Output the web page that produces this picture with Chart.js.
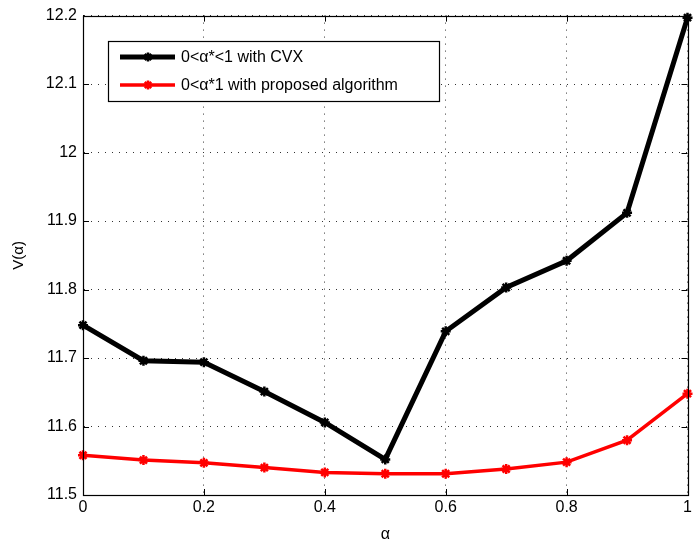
<!DOCTYPE html>
<html>
<head>
<meta charset="utf-8">
<script src="https://cdn.jsdelivr.net/npm/chart.js@4/dist/chart.umd.min.js"></script>
<style>
  html, body { margin: 0; padding: 0; background: #fff; }
  #wrap { width: 695px; height: 544px; position: relative; }
</style>
</head>
<body>
<div id="wrap"><canvas id="c" width="695" height="544"></canvas></div>
<script>
const alphaValues = [0, 0.1, 0.2, 0.3, 0.4, 0.5, 0.6, 0.7, 0.8, 0.9, 1.0];
const cvxValues = [11.748, 11.696, 11.694, 11.651, 11.606, 11.552, 11.739, 11.803, 11.842, 11.912, 12.197];
const proposedValues = [11.558, 11.551, 11.547, 11.540, 11.533, 11.531, 11.531, 11.538, 11.548, 11.580, 11.648];
const seriesLabels = ['0<\u03b1*<1 with CVX', '0<\u03b1*1 with proposed algorithm'];
const xTicks = [0, 0.2, 0.4, 0.6, 0.8, 1];
const yTicks = [11.5, 11.6, 11.7, 11.8, 11.9, 12, 12.1, 12.2];

const FONT = '"Liberation Sans", Arial, Helvetica, sans-serif';

function toPoints(xs, ys) { return xs.map((x, i) => ({ x: x, y: ys[i] })); }

const frame = {
  id: 'frame',
  beforeDatasetsDraw(chart) {
    const ctx = chart.ctx, a = chart.chartArea;
    const xs = chart.scales.x, ys = chart.scales.y;
    ctx.save();
    ctx.strokeStyle = '#000';
    ctx.lineWidth = 1;
    ctx.setLineDash([]);
    const L = 6;
    ctx.beginPath();
    xTicks.forEach(v => {
      const px = Math.round(xs.getPixelForValue(v)) + 0.5;
      ctx.moveTo(px, a.bottom); ctx.lineTo(px, a.bottom - L);
      ctx.moveTo(px, a.top); ctx.lineTo(px, a.top + L);
    });
    yTicks.forEach(v => {
      const py = Math.round(ys.getPixelForValue(v)) + 0.5;
      ctx.moveTo(a.left, py); ctx.lineTo(a.left + L, py);
      ctx.moveTo(a.right, py); ctx.lineTo(a.right - L, py);
    });
    ctx.stroke();
    ctx.restore();
  },
  afterDraw(chart) {
    const ctx = chart.ctx, a = chart.chartArea;
    ctx.save();
    ctx.strokeStyle = '#000';
    ctx.lineWidth = 1.2;
    ctx.strokeRect(Math.round(a.left) + 0.5, Math.round(a.top) + 0.5,
                   Math.round(a.right - a.left), Math.round(a.bottom - a.top));
    // legend
    const bx = 108.5, by = 41.5, bw = 331, bh = 60;
    ctx.fillStyle = '#fff';
    ctx.fillRect(bx, by, bw, bh);
    ctx.lineWidth = 1.2;
    ctx.strokeRect(bx, by, bw, bh);
    const rows = [57, 85];
    chart.data.datasets.forEach((ds, i) => {
      const y = rows[i];
      ctx.strokeStyle = ds.borderColor;
      ctx.lineWidth = ds.borderWidth;
      ctx.beginPath();
      ctx.moveTo(120, y); ctx.lineTo(175, y);
      ctx.stroke();
      const cx = 148, r = 4.5;
      ctx.lineWidth = ds.pointBorderWidth;
      ctx.beginPath();
      for (let k = 0; k < 4; k++) {
        const ang = k * Math.PI / 4;
        ctx.moveTo(cx + r * Math.cos(ang), y + r * Math.sin(ang));
        ctx.lineTo(cx - r * Math.cos(ang), y - r * Math.sin(ang));
      }
      ctx.stroke();
      ctx.fillStyle = '#000';
      ctx.font = '16px ' + FONT;
      ctx.textBaseline = 'middle';
      ctx.textAlign = 'left';
      ctx.fillText(ds.label, 181, y + 1);
    });
    ctx.restore();
  }
};

new Chart(document.getElementById('c'), {
  type: 'line',
  data: {
    datasets: [
      {
        label: seriesLabels[0],
        data: toPoints(alphaValues, cvxValues),
        borderColor: '#000000',
        backgroundColor: '#000000',
        borderWidth: 5,
        pointStyle: 'star',
        pointRadius: 5,
        pointBorderWidth: 2.5,
        pointBorderColor: '#000000',
        tension: 0
      },
      {
        label: seriesLabels[1],
        data: toPoints(alphaValues, proposedValues),
        borderColor: '#ff0000',
        backgroundColor: '#ff0000',
        borderWidth: 3.5,
        pointStyle: 'star',
        pointRadius: 5,
        pointBorderWidth: 2.5,
        pointBorderColor: '#ff0000',
        tension: 0
      }
    ]
  },
  options: {
    responsive: false,
    animation: false,
    clip: false,
    layout: { padding: { top: 15, right: 4, left: 0, bottom: 0 } },
    plugins: { legend: { display: false }, tooltip: { enabled: false } },
    scales: {
      x: {
        type: 'linear',
        min: 0, max: 1,
        afterBuildTicks: s => { s.ticks = xTicks.map(v => ({ value: v })); },
        afterFit: s => { s.height = 49; },
        ticks: {
          color: '#000',
          font: { family: FONT, size: 16 },
          padding: 3,
          maxRotation: 0,
          callback: v => String(v)
        },
        grid: {
          drawTicks: false,
          color: '#333',
          lineWidth: 1,
          tickLength: 0
        },
        border: { display: true, color: '#000', width: 1, dash: [1, 6] },
        title: {
          display: true,
          text: '\u03b1',
          color: '#000',
          font: { family: FONT, size: 16 },
          padding: { top: 2, bottom: 0 }
        }
      },
      y: {
        type: 'linear',
        min: 11.5, max: 12.2,
        afterBuildTicks: s => { s.ticks = yTicks.map(v => ({ value: v })); },
        afterFit: s => { s.width = 83; },
        ticks: {
          color: '#000',
          font: { family: FONT, size: 16 },
          padding: 6,
          callback: v => String(Math.round(v * 10) / 10)
        },
        grid: {
          drawTicks: false,
          color: '#333',
          lineWidth: 1
        },
        border: { display: true, color: '#000', width: 1, dash: [1, 6] },
        title: {
          display: true,
          text: 'V(\u03b1)',
          color: '#000',
          font: { family: FONT, size: 15 },
          padding: { top: 10, bottom: 0 }
        }
      }
    }
  },
  plugins: [frame]
});
</script>
</body>
</html>
